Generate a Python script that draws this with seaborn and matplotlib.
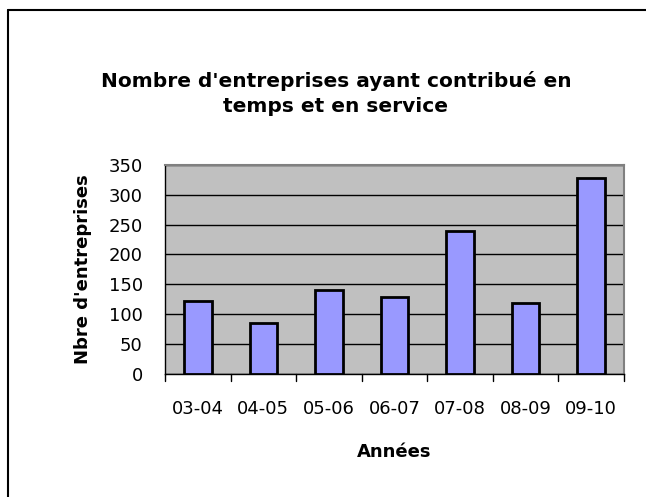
import pandas as pd
import seaborn as sns
import matplotlib.pyplot as plt
from matplotlib.lines import Line2D

annees = ["03-04", "04-05", "05-06", "06-07", "07-08", "08-09", "09-10"]
nb_entreprises = [122, 86, 140, 129, 239, 119, 327]
y_ticks = [0, 50, 100, 150, 200, 250, 300, 350]

df = pd.DataFrame({"Années": annees, "Nbre d'entreprises": nb_entreprises})

sns.set_style("white")
plt.rcParams['font.family'] = ['DejaVu Sans']
plt.rcParams['text.color'] = 'black'
plt.rcParams['axes.labelcolor'] = 'black'

fig = plt.figure(figsize=(6.46, 4.97), dpi=100)
ax = fig.add_axes([0.2554, 0.2475, 0.7106, 0.4211])
ax.set_facecolor("#C0C0C0")

sns.barplot(data=df, x="Années", y="Nbre d'entreprises", color="#9999FF",
            edgecolor="black", linewidth=2, width=0.42, saturation=1, ax=ax, zorder=3)

ax.set_ylim(0, 350)
ax.set_yticks(y_ticks)
ax.set_xlim(-0.5, len(annees) - 0.5)
ax.grid(axis="y", color="black", linewidth=1, zorder=0)
ax.set_axisbelow(True)

for s in ["top", "right"]:
    ax.spines[s].set_color("#808080")
    ax.spines[s].set_linewidth(1.5)
for s in ["left", "bottom"]:
    ax.spines[s].set_color("black")
    ax.spines[s].set_linewidth(1)

# graduations entre les catégories
ax.set_xticks(range(len(annees)))
ax.set_xticklabels(annees)
ax.tick_params(axis="x", length=0, labelsize=13, pad=19, colors="black")
for b in [i - 0.5 for i in range(len(annees) + 1)]:
    ax.plot([b, b], [0, -12], color="black", linewidth=1, clip_on=False, zorder=5)
ax.tick_params(axis="y", direction="inout", length=8, width=1, labelsize=13, pad=12,
               colors="black")

ax.set_xlabel("Années", fontsize=13, fontweight="bold", labelpad=18)
ax.set_ylabel("Nbre d'entreprises", fontsize=13, fontweight="bold", labelpad=12)

fig.text(0.52, 0.812, "Nombre d'entreprises ayant contribué en\ntemps et en service",
         ha="center", va="center", fontsize=14.5, fontweight="bold", linespacing=1.35)

# cadre du graphique
fig.add_artist(Line2D([8 / 646, 8 / 646], [0, 1 - 10 / 497], color="black", linewidth=1.5))
fig.add_artist(Line2D([8 / 646, 1], [1 - 10 / 497, 1 - 10 / 497], color="black", linewidth=1.5))

fig.savefig("out.png", dpi=100)
